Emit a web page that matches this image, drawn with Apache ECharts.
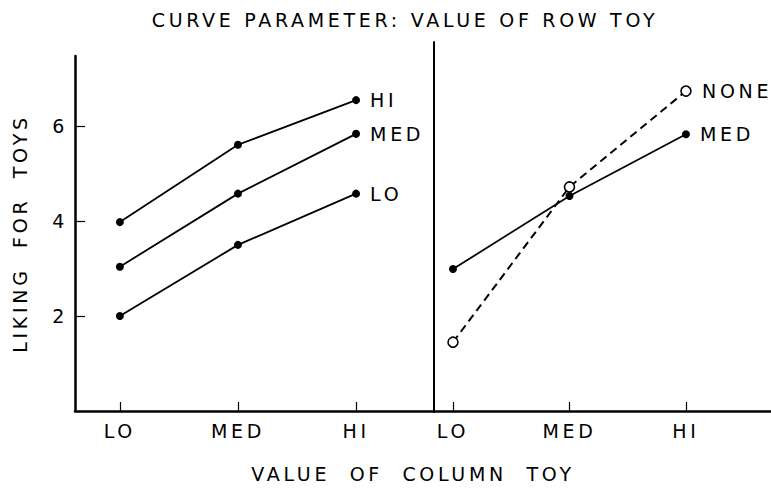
<!DOCTYPE html>
<html>
<head>
<meta charset="utf-8">
<script src="https://cdn.jsdelivr.net/npm/echarts@6/dist/echarts.min.js"></script>
<style>
  html, body { margin: 0; padding: 0; background: #fff; }
  #main { width: 771px; height: 489px; }
  #main text { letter-spacing: 3.7px; }
</style>
</head>
<body>
<div id="main"></div>
<script>
// levels of the column toy (x axis)
const levels = ["LO", "MED", "HI"];
const levelPos = [1, 2, 3];
const yTicks = [2, 4, 6];

// left panel: curve parameter = value of row toy
const leftHi = [3.98, 5.61, 6.55];
const leftMed = [3.04, 4.58, 5.84];
const leftLo = [2.0, 3.5, 4.58];

// right panel
const rightNone = [1.45, 4.72, 6.74];
const rightMed = [2.99, 4.53, 5.83];

const ink = "#000";
const font = "DejaVu Sans";

function toPoints(values) {
  return values.map((v, i) => [levelPos[i], v]);
}

function solidSeries(name, values, panel) {
  return {
    name: name,
    type: "line",
    xAxisIndex: panel,
    yAxisIndex: panel,
    data: toPoints(values),
    symbol: "circle",
    symbolSize: 8,
    itemStyle: { color: ink },
    lineStyle: { color: ink, width: 1.8 },
    endLabel: {
      show: true,
      formatter: "{a}",
      distance: 14,
      color: ink,
      fontFamily: font,
      fontSize: 19,
    },
    silent: true,
  };
}

function xAxisFor(panel, min, max) {
  return {
    type: "value",
    gridIndex: panel,
    min: min,
    max: max,
    splitLine: { show: false },
    axisLine: { lineStyle: { color: ink, width: 2.5 } },
    axisTick: {
      inside: true,
      length: 9,
      customValues: levelPos,
      lineStyle: { color: ink, width: 1.2 },
    },
    axisLabel: {
      customValues: levelPos,
      formatter: (v) => levels[levelPos.indexOf(v)],
      color: ink,
      fontFamily: font,
      fontSize: 19,
      margin: 10,
    },
  };
}

let myEchart = echarts.init(document.getElementById("main"), null, {
  renderer: "svg",
});

let option = {
  animation: false,
  backgroundColor: "#fff",
  title: [
    {
      text: "CURVE PARAMETER: VALUE OF ROW TOY",
      left: 400,
      top: 5,
      textAlign: "center",
      textStyle: { color: ink, fontFamily: font, fontSize: 19, fontWeight: "normal" },
    },
    {
      text: "VALUE  OF  COLUMN  TOY",
      left: 408,
      top: 459,
      textAlign: "center",
      textStyle: { color: ink, fontFamily: font, fontSize: 19, fontWeight: "normal" },
    },
  ],
  grid: [
    { left: 75, right: 337, top: 56, bottom: 78 },
    { left: 434, right: 0, top: 42, bottom: 78 },
  ],
  xAxis: [xAxisFor(0, 0.62, 3.66), xAxisFor(1, 0.837, 3.73)],
  yAxis: [
    {
      type: "value",
      gridIndex: 0,
      min: 0,
      max: 7.48,
      splitLine: { show: false },
      axisLine: { show: true, lineStyle: { color: ink, width: 2.5 } },
      axisTick: {
        inside: true,
        length: 10,
        customValues: yTicks,
        lineStyle: { color: ink, width: 1.2 },
      },
      axisLabel: {
        customValues: yTicks,
        color: ink,
        fontFamily: font,
        fontSize: 19,
        margin: 7,
      },
      name: "LIKING  FOR  TOYS",
      nameLocation: "middle",
      nameRotate: 90,
      nameGap: 46,
      nameTextStyle: { color: ink, fontFamily: font, fontSize: 19 },
    },
    {
      type: "value",
      gridIndex: 1,
      min: 0,
      max: 7.773,
      splitLine: { show: false },
      axisLine: { show: true, lineStyle: { color: ink, width: 2 } },
      axisTick: { show: false },
      axisLabel: { show: false },
    },
  ],
  series: [
    solidSeries("HI", leftHi, 0),
    solidSeries("MED", leftMed, 0),
    solidSeries("LO", leftLo, 0),
    solidSeries("MED", rightMed, 1),
    {
      name: "NONE",
      type: "line",
      xAxisIndex: 1,
      yAxisIndex: 1,
      data: toPoints(rightNone),
      symbol: "circle",
      symbolSize: 10,
      z: 3,
      itemStyle: { color: "#fff", borderColor: ink, borderWidth: 1.6 },
      lineStyle: { color: ink, width: 2, type: [8, 5] },
      endLabel: {
        show: true,
        formatter: "{a}",
        distance: 16,
        color: ink,
        fontFamily: font,
        fontSize: 19,
      },
      silent: true,
    },
  ],
};

myEchart.setOption(option, true);
</script>
</body>
</html>
